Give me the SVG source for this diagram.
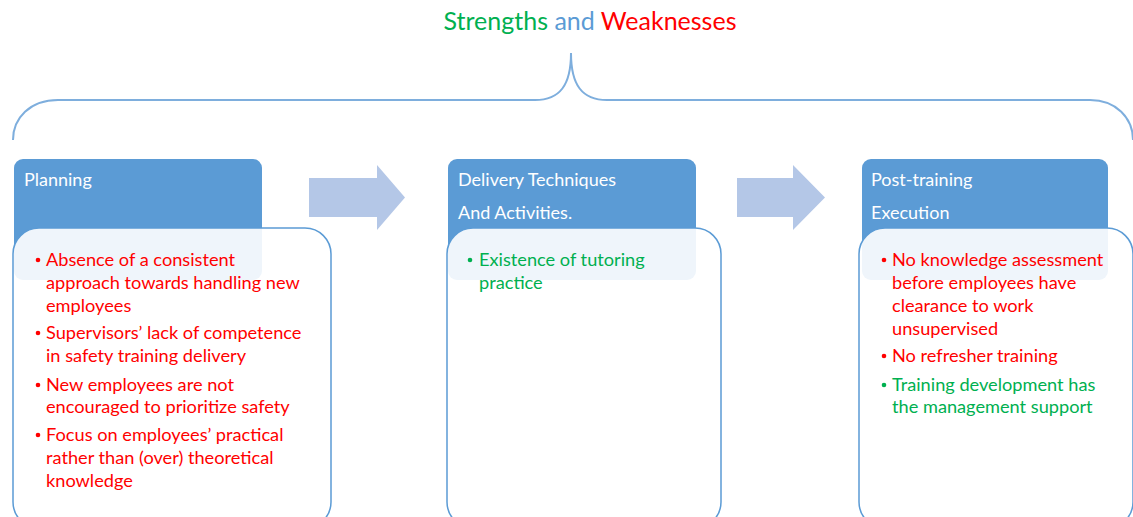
<svg xmlns="http://www.w3.org/2000/svg" width="1133" height="517" viewBox="0 0 1133 517">
<style>
.hdr{fill:#5b9bd5}
.body{fill:#ffffff;fill-opacity:0.9;stroke:#5b9bd5;stroke-width:1.5}
.ht{font-family:Lato,"Liberation Sans",sans-serif;font-size:18px;fill:#ffffff}
.t{font-family:Lato,"Liberation Sans",sans-serif;font-size:18.2px}
.r{fill:#ff0000}
.g{fill:#00b050}
.arr{fill:#b4c7e7}
</style>
<rect width="1133" height="517" fill="#ffffff"/>
<text x="590" y="30" text-anchor="middle" font-family="Lato,'Liberation Sans',sans-serif" font-size="25px"><tspan fill="#00b050">Strengths</tspan> <tspan fill="#5b9bd5">and</tspan> <tspan fill="#ff0000">Weaknesses</tspan></text>
<g id="connectors">
<path d="M13,140 C13,118 30,100 58,100 L535,100 C560,100 571,85 571,53 C571,85 582,100 607,100 L1090,100 C1116,100 1133,118 1133,140" fill="none" stroke="#7eaedd" stroke-width="2"/>
<path class="arr" d="M309,178 L377,178 L377,165 L405,197.5 L377,230 L377,217 L309,217 Z"/>
<path class="arr" d="M737,178 L793,178 L793,165 L825,197.5 L793,230 L793,217 L737,217 Z"/>
</g>
<g id="planning">
<rect class="hdr" x="14" y="159" width="248" height="121" rx="9"/>
<text class="ht" x="24" y="186">Planning</text>
<rect class="body" x="13" y="228" width="318" height="300" rx="26"/>
<g class="t r">
<circle cx="38" cy="260" r="2.3"/>
<text x="46" y="266">Absence of a consistent</text>
<text x="46" y="289">approach towards handling new</text>
<text x="46" y="312">employees</text>
<circle cx="38" cy="333" r="2.3"/>
<text x="46" y="339">Supervisors’ lack of competence</text>
<text x="46" y="362">in safety training delivery</text>
<circle cx="38" cy="385" r="2.3"/>
<text x="46" y="391">New employees are not</text>
<text x="46" y="413">encouraged to prioritize safety</text>
<circle cx="38" cy="435" r="2.3"/>
<text x="46" y="441">Focus on employees’ practical</text>
<text x="46" y="464">rather than (over) theoretical</text>
<text x="46" y="487">knowledge</text>
</g>
</g>
<g id="delivery">
<rect class="hdr" x="448" y="159" width="248" height="121" rx="9"/>
<text class="ht" x="458" y="186">Delivery Techniques</text>
<text class="ht" x="458" y="219">And Activities.</text>
<rect class="body" x="447" y="228" width="274" height="300" rx="26"/>
<g class="t g">
<circle cx="470" cy="260" r="2.3"/>
<text x="479" y="266">Existence of tutoring</text>
<text x="479" y="289">practice</text>
</g>
</g>
<g id="post">
<rect class="hdr" x="862" y="159" width="246" height="121" rx="9"/>
<text class="ht" x="871" y="186">Post-training</text>
<text class="ht" x="871" y="219">Execution</text>
<rect class="body" x="859" y="228" width="274" height="300" rx="26"/>
<g class="t">
<circle class="r" cx="884" cy="260" r="2.3"/>
<text class="r" x="892" y="266">No knowledge assessment</text>
<text class="r" x="892" y="289">before employees have</text>
<text class="r" x="892" y="312">clearance to work</text>
<text class="r" x="892" y="335">unsupervised</text>
<circle class="r" cx="884" cy="356" r="2.3"/>
<text class="r" x="892" y="362">No refresher training</text>
<circle class="g" cx="884" cy="385" r="2.3"/>
<text class="g" x="892" y="391">Training development has</text>
<text class="g" x="892" y="413">the management support</text>
</g>
</g>
</svg>
